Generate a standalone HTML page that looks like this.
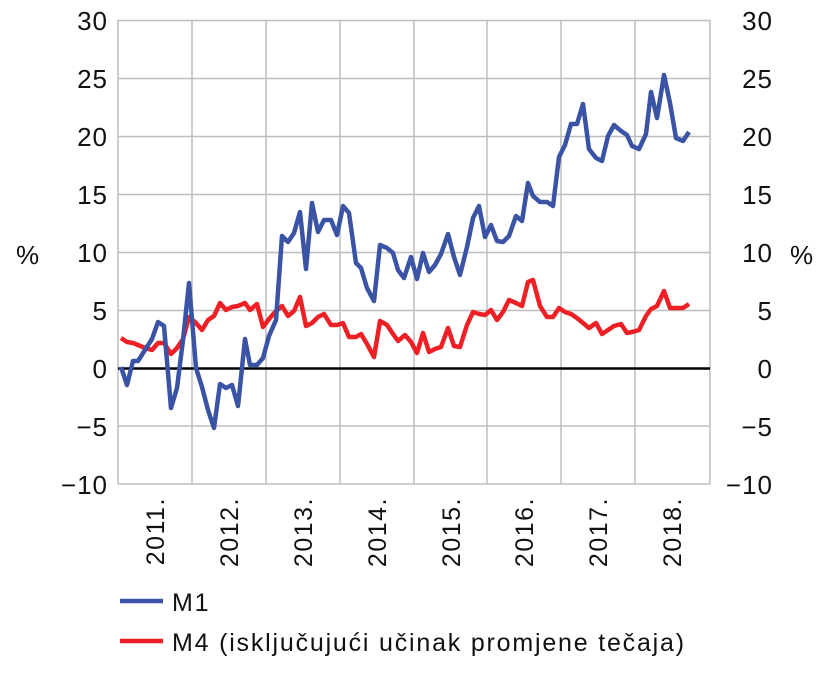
<!DOCTYPE html>
<html><head><meta charset="utf-8"><style>body{margin:0;background:#fff}svg{display:block}text{font-family:"Liberation Sans",Arial,sans-serif;fill:#111}</style></head>
<body>
<svg width="828" height="686" viewBox="0 0 828 686" xmlns="http://www.w3.org/2000/svg">
<g stroke="#bdbdbd" stroke-width="1.5">
<line x1="118" y1="20.5" x2="710" y2="20.5"/><line x1="118" y1="78.5" x2="710" y2="78.5"/><line x1="118" y1="136.5" x2="710" y2="136.5"/><line x1="118" y1="194.5" x2="710" y2="194.5"/><line x1="118" y1="252.5" x2="710" y2="252.5"/><line x1="118" y1="310.5" x2="710" y2="310.5"/><line x1="118" y1="426" x2="710" y2="426"/><line x1="118" y1="484" x2="710" y2="484"/>
<line x1="118" y1="20" x2="118" y2="484"/><line x1="192" y1="20" x2="192" y2="484"/><line x1="266" y1="20" x2="266" y2="484"/><line x1="340" y1="20" x2="340" y2="484"/><line x1="414" y1="20" x2="414" y2="484"/><line x1="487" y1="20" x2="487" y2="484"/><line x1="561" y1="20" x2="561" y2="484"/><line x1="635" y1="20" x2="635" y2="484"/><line x1="710" y1="20" x2="710" y2="484"/>
</g>
<line x1="118" y1="368.5" x2="710" y2="368.5" stroke="#000" stroke-width="2.5"/>
<polyline fill="none" stroke="#ee2026" stroke-width="4.5" stroke-linejoin="round" points="121,338 127,342 133,343 138,345 145,348 152,350 158,343 164,343 171,354 177,348 183,339 189,317 196,323 202,330 208,320 214,316 220,303 226,310 232,307 238,306 245,303 250,310 257,304 263,327 269,319 276,311 282,306 288,316 294,311 300,297 306,326 312,323 318,317 324,314 331,325 337,325 343,323 349,337 356,337 361,334 367,344 374,357 380,321 387,325 393,334 398,341 405,335 411,342 417,353 423,333 429,352 435,349 441,347 448,328 454,346 460,347 467,325 473,312 479,314 485,315 491,310 497,320 503,312 509,300 516,303 522,306 528,282 533,280 540,306 547,317 553,317 559,308 565,312 571,314 577,318 583,323 589,328 596,323 602,334 608,330 614,326 621,324 627,333 632,332 639,330 646,316 651,309 657,306 664,291 670,308 676,308 683,308 689,304"/>
<polyline fill="none" stroke="#3a53a4" stroke-width="4.5" stroke-linejoin="round" points="121,367 127,385 133,361 138,361 145,350 152,339 158,322 164,326 171,408 177,388 183,340 189,283 196,368 202,387 208,410 214,428 220,384 226,388 232,385 238,406 245,339 250,365 257,365 263,358 269,336 276,320 282,236 288,242 294,233 300,212 306,269 312,203 318,232 324,220 331,220 337,235 343,206 349,213 356,263 361,268 367,288 374,301 380,245 387,248 393,253 398,270 404,278 411,257 417,279 423,253 429,272 435,265 441,254 448,234 454,257 460,275 467,247 473,218 479,206 485,237 491,225 497,241 503,242 509,236 516,216 522,221 528,183 533,196 540,202 547,202 553,206 559,157 565,145 571,124 577,124 583,104 589,149 596,158 602,161 608,136 614,125 621,131 627,135 632,146 639,149 646,134 651,92 657,118 664,75 670,103 676,138 683,141 689,132"/>
<g font-size="26" text-anchor="end" letter-spacing="1">
<text x="108" y="30">30</text><text x="108" y="88">25</text><text x="108" y="146">20</text><text x="108" y="204">15</text><text x="108" y="262">10</text><text x="108" y="320">5</text><text x="108" y="378">0</text><text x="108" y="436">−5</text><text x="108" y="494">−10</text>
<text x="773" y="30">30</text><text x="773" y="88">25</text><text x="773" y="146">20</text><text x="773" y="204">15</text><text x="773" y="262">10</text><text x="773" y="320">5</text><text x="773" y="378">0</text><text x="773" y="436">−5</text><text x="773" y="494">−10</text>
</g>
<text x="16" y="264" font-size="26">%</text><text x="790" y="264" font-size="26">%</text>
<g font-size="25" text-anchor="end" letter-spacing="1.5">
<text transform="translate(164,497) rotate(-90)">2011.</text>
<text transform="translate(238,497) rotate(-90)">2012.</text>
<text transform="translate(312,497) rotate(-90)">2013.</text>
<text transform="translate(386,497) rotate(-90)">2014.</text>
<text transform="translate(460,497) rotate(-90)">2015.</text>
<text transform="translate(533,497) rotate(-90)">2016.</text>
<text transform="translate(607,497) rotate(-90)">2017.</text>
<text transform="translate(681,497) rotate(-90)">2018.</text>
</g>
<line x1="120" y1="601" x2="163" y2="601" stroke="#3a53a4" stroke-width="4.5"/>
<text x="172" y="611" font-size="25" letter-spacing="1.8">M1</text>
<line x1="120" y1="641" x2="163" y2="641" stroke="#ee2026" stroke-width="4.5"/>
<text x="172" y="651" font-size="25" letter-spacing="1.8">M4 (isključujući učinak promjene tečaja)</text>
</svg>
</body></html>
